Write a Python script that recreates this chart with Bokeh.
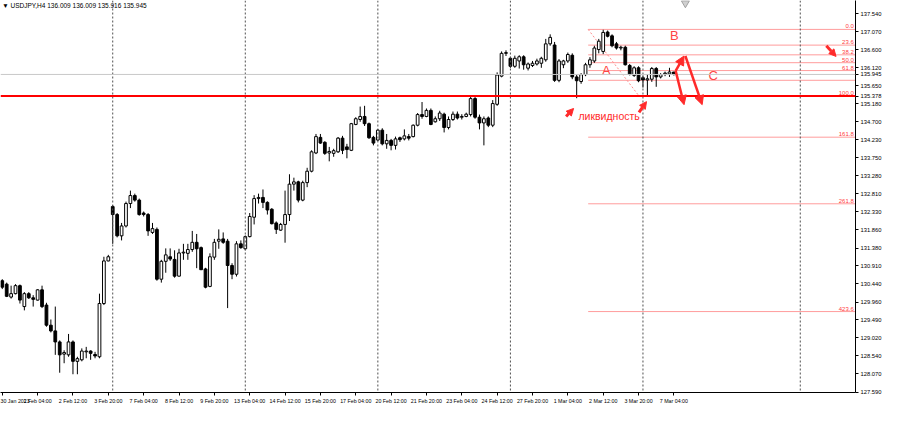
import numpy as np
from bokeh.plotting import figure
from bokeh.models import (Range1d, FixedTicker, PrintfTickFormatter, Span, Label,
                          Arrow, NormalHead, ColumnDataSource)
from bokeh.core.properties import value
from bokeh.embed import file_html
from bokeh.resources import INLINE

# USDJPY H4 bars, bar 0 = 30 Jan 2023 20:00, bar 152 = 7 Mar 04:00
opens = [130.52, 130.43, 130.09, 130.18, 130.39, 129.84, 130.18, 130.07, 130.01, 130.28,
         129.88, 129.35, 129.20, 128.91, 128.59, 128.57, 128.91, 128.40, 128.44, 128.65,
         128.67, 128.58, 128.52, 129.92, 131.04, 132.47, 132.26, 131.70, 131.96, 132.55,
         132.76, 132.64, 132.30, 132.26, 131.79, 131.87, 130.56, 131.03, 131.15, 131.08,
         130.64, 131.25, 131.24, 131.34, 131.53, 131.39, 130.83, 130.37, 131.14, 131.56,
         131.62, 131.56, 130.92, 130.69, 131.49, 131.36, 131.68, 132.19, 132.68, 132.71,
         132.58, 132.40, 132.04, 131.85, 132.00, 132.26, 133.06, 133.12, 132.64, 133.10,
         133.40, 133.88, 134.29, 134.16, 133.88, 133.87, 133.91, 134.27, 134.04, 133.95,
         134.63, 134.76, 134.84, 134.65, 134.29, 134.22, 134.48, 134.12, 134.21, 134.08,
         134.28, 134.25, 134.31, 134.31, 134.61, 134.89, 134.84, 135.00, 134.70, 134.78,
         134.90, 134.55, 134.76, 134.90, 134.82, 134.84, 134.89, 135.31, 134.82, 134.67,
         134.80, 134.61, 135.16, 135.90, 136.50, 136.37, 136.16, 136.30, 136.41, 136.11,
         136.18, 136.22, 136.24, 136.33, 136.75, 136.72, 135.79, 136.20, 136.30, 136.45,
         135.88, 135.76, 135.94, 136.20, 136.30, 136.60, 136.55, 137.06, 136.96, 136.75,
         136.64, 136.66, 136.18, 135.92, 136.12, 135.86, 135.80, 135.82, 136.10, 135.88,
         135.96, 135.96, 136.009]
highs = [130.56, 130.47, 130.39, 130.43, 130.42, 130.22, 130.22, 130.14, 130.30, 130.39,
         129.94, 129.50, 129.84, 128.95, 128.69, 129.12, 128.95, 128.52, 128.74, 128.78,
         128.69, 128.65, 130.18, 131.15, 131.20, 132.51, 132.30, 132.04, 132.60, 132.89,
         132.81, 132.68, 132.34, 132.30, 132.04, 131.92, 131.07, 131.37, 131.37, 131.32,
         131.36, 131.49, 131.49, 131.83, 131.75, 131.42, 130.86, 131.24, 131.62, 131.87,
         131.79, 131.62, 130.98, 131.56, 131.58, 131.71, 132.30, 132.77, 132.81, 132.92,
         132.61, 132.43, 132.08, 132.04, 132.89, 133.32, 133.23, 133.15, 133.15, 133.49,
         133.95, 134.38, 134.38, 134.19, 134.04, 133.99, 134.30, 134.33, 134.12, 134.67,
         134.82, 135.10, 135.12, 134.68, 134.33, 134.51, 134.53, 134.38, 134.25, 134.31,
         134.31, 134.50, 134.38, 134.63, 134.93, 135.22, 135.05, 135.05, 134.84, 134.99,
         134.94, 134.84, 134.97, 134.97, 134.90, 134.94, 135.40, 135.35, 134.89, 134.84,
         134.84, 135.27, 136.00, 136.55, 136.58, 136.41, 136.44, 136.45, 136.45, 136.26,
         136.30, 136.36, 136.41, 136.88, 137.00, 136.80, 136.35, 136.33, 136.52, 136.50,
         135.94, 135.98, 136.25, 136.40, 136.70, 136.88, 137.12, 137.10, 137.00, 136.80,
         136.70, 136.70, 136.22, 136.16, 136.16, 135.92, 135.95, 136.14, 136.14, 135.98,
         136.02, 136.12, 136.009]
lows = [130.30, 130.09, 130.05, 130.16, 129.92, 129.74, 130.04, 129.84, 130.00, 129.80,
        129.31, 129.16, 128.57, 128.10, 128.35, 128.52, 128.06, 128.06, 128.40, 128.48,
        128.44, 128.48, 128.48, 129.88, 131.03, 131.49, 131.66, 131.58, 131.92, 132.43,
        132.60, 132.23, 132.21, 131.70, 131.75, 130.52, 130.47, 130.73, 131.04, 130.60,
        130.63, 131.07, 131.07, 131.28, 130.85, 130.80, 130.32, 130.35, 131.07, 131.36,
        131.49, 129.80, 130.56, 130.63, 131.36, 131.32, 131.66, 132.00, 132.55, 132.43,
        132.26, 132.00, 131.75, 131.83, 131.52, 132.09, 132.89, 132.58, 132.61, 132.98,
        133.37, 133.85, 134.12, 133.83, 133.66, 133.78, 133.88, 133.85, 133.74, 133.93,
        134.61, 134.70, 134.59, 134.25, 134.08, 134.19, 134.08, 133.99, 133.95, 133.97,
        134.17, 134.21, 134.21, 134.29, 134.58, 134.78, 134.82, 134.61, 134.68, 134.72,
        134.42, 134.50, 134.72, 134.76, 134.76, 134.82, 134.84, 134.78, 134.50, 134.08,
        134.56, 134.56, 135.12, 135.87, 136.43, 136.12, 136.12, 136.10, 136.07, 136.05,
        136.14, 136.18, 136.12, 136.28, 136.70, 135.75, 135.74, 136.11, 136.25, 135.82,
        135.32, 135.70, 135.90, 136.12, 136.25, 136.50, 136.48, 136.92, 136.66, 136.60,
        136.58, 136.18, 135.92, 135.88, 135.74, 135.60, 135.40, 135.75, 135.62, 135.84,
        135.90, 135.88, 135.916]
closes = [130.35, 130.11, 130.18, 130.39, 130.01, 130.18, 130.07, 130.03, 130.28, 129.84,
          129.35, 129.20, 128.91, 128.57, 128.63, 128.91, 128.40, 128.47, 128.67, 128.67,
          128.61, 128.54, 129.92, 131.04, 131.15, 132.26, 131.70, 131.96, 132.55, 132.76,
          132.64, 132.26, 132.26, 131.83, 131.89, 130.56, 131.03, 131.20, 131.09, 130.64,
          131.25, 131.27, 131.34, 131.53, 131.36, 130.81, 130.35, 131.15, 131.53, 131.61,
          131.53, 130.92, 130.69, 131.49, 131.39, 131.68, 132.21, 132.68, 132.71, 132.58,
          132.38, 132.02, 131.87, 132.00, 132.26, 133.06, 133.12, 132.64, 133.10, 133.40,
          133.91, 134.31, 134.14, 133.87, 133.92, 133.94, 134.27, 133.95, 133.97, 134.65,
          134.78, 134.84, 134.65, 134.28, 134.14, 134.48, 134.12, 134.21, 134.08, 134.25,
          134.23, 134.33, 134.27, 134.61, 134.89, 134.84, 135.00, 134.63, 134.78, 134.93,
          134.55, 134.76, 134.90, 134.80, 134.84, 134.90, 135.31, 134.82, 134.67, 134.78,
          134.61, 135.18, 135.93, 136.50, 136.52, 136.16, 136.37, 136.41, 136.20, 136.22,
          136.24, 136.30, 136.37, 136.75, 136.92, 135.79, 136.30, 136.30, 136.47, 135.88,
          135.78, 135.94, 136.20, 136.33, 136.64, 136.82, 137.05, 136.95, 136.70, 136.64,
          136.66, 136.20, 135.95, 136.12, 135.78, 135.80, 135.83, 136.10, 135.88, 135.94,
          135.98, 136.01, 135.945]

# time axis: bar index -> label
date_ticks = [0, 8, 16, 24, 32, 40, 48, 56, 64, 72, 80, 88, 96, 104, 112, 120, 128, 136, 144, 152]
date_labels = ["30 Jan 2023", "1 Feb 04:00", "2 Feb 12:00", "3 Feb 20:00", "7 Feb 04:00",
               "8 Feb 12:00", "9 Feb 20:00", "13 Feb 04:00", "14 Feb 12:00", "15 Feb 20:00",
               "17 Feb 04:00", "20 Feb 12:00", "21 Feb 20:00", "23 Feb 04:00", "24 Feb 12:00",
               "27 Feb 20:00", "1 Mar 04:00", "2 Mar 12:00", "3 Mar 20:00", "7 Mar 04:00"]

price_ticks = [137.54, 137.07, 136.60, 136.12, 135.65, 135.18, 134.70, 134.23, 133.75, 133.28,
               132.81, 132.33, 131.86, 131.38, 130.91, 130.44, 129.96, 129.49, 129.02, 128.54,
               128.07, 127.59]

# week separators (bar index)
separators = [25, 55, 85, 115, 145, 180.6]
shift_marker = 154.6

bid_price = 135.945
level_price = 135.378

# fibonacci grid
fib_start = 132.6
fib_end = 144.1
fib_high = 137.13
fib_low = 135.378
fib_ratios = [0.0, 23.6, 38.2, 50.0, 61.8, 76.4, 100.0, 161.8, 261.8, 423.6]
fib_texts = ["0.0", "23.6", "38.2", "50.0", "61.8", "", "100.0", "161.8", "261.8", "423.6"]

# hand drawn arrows (bar index, price)
small_x0 = [127.6, 144.1, 186.5]
small_y0 = [134.84, 134.95, 136.70]
small_x1 = [129.3, 145.8, 188.7]
small_y1 = [135.05, 135.23, 136.42]
path_x0 = [152.4, 154.6, 152.4]
path_y0 = [136.04, 136.43, 136.04]
path_x1 = [154.3, 158.4, 154.3]
path_y1 = [136.43, 135.15, 135.15]

wave_labels = ["A", "B", "C"]
wave_x = [136.7, 152.1, 160.9]
wave_y = [136.04, 136.96, 135.91]
note_text = ["ликвидность"]
note_x = [130.4]
note_y = [134.86]

title_text = "\u25bc USDJPY,H4  136.009 136.009 135.916 135.945"

X_START, X_END = -0.4, 193.1
RED = "#ff2a2a"
FONT = "Liberation Sans"

o = np.array(opens)
c = np.array(closes)
src = ColumnDataSource(dict(
    x=np.arange(len(opens)),
    high=highs, low=lows,
    top=np.maximum(o, c), bottom=np.minimum(o, c),
    fill=np.where(c >= o, "white", "black"),
))

p = figure(width=884, height=406, x_range=Range1d(X_START, X_END),
           y_range=Range1d(127.58, 137.89), y_axis_location="right",
           output_backend="svg", toolbar_location=None,
           min_border_left=0, min_border_top=0, min_border_right=0, min_border_bottom=0)
p.grid.visible = False
p.outline_line_color = None
p.background_fill_color = "white"

# axes; the bid and the red level are shown as extra price labels
p.xaxis.ticker = FixedTicker(ticks=date_ticks)
p.xaxis.major_label_overrides = dict(zip(date_ticks, date_labels))
p.xaxis.major_label_text_align = "left"
p.yaxis.ticker = FixedTicker(ticks=price_ticks + [bid_price, level_price])
p.yaxis.formatter = PrintfTickFormatter(format="%.3f")
for ax in (p.xaxis, p.yaxis):
    ax.axis_line_color = "black"
    ax.major_tick_line_color = "black"
    ax.major_tick_in = 0
    ax.major_tick_out = 3
    ax.minor_tick_line_color = None
    ax.major_label_text_font = FONT
    ax.major_label_text_color = "black"
    ax.major_label_standoff = 2
p.xaxis.major_label_text_font_size = "5.3px"
p.yaxis.major_label_text_font_size = "5.8px"

# separators and horizontal lines
for s in separators:
    p.add_layout(Span(location=s, dimension="height", line_color="#505050",
                      line_dash="2 2", line_width=1))
p.add_layout(Span(location=bid_price, dimension="width", line_color="#c8c8c8", line_width=1))

# fibonacci
fib_prices = [fib_high - r / 100.0 * (fib_high - fib_low) for r in fib_ratios]
p.segment(x0=[fib_start] * len(fib_prices), y0=fib_prices,
          x1=[X_END] * len(fib_prices), y1=fib_prices,
          line_color="#ff9c9c", line_width=1)
p.segment(x0=[fib_start], y0=[fib_high], x1=[fib_end], y1=[fib_low],
          line_color="#ff8c8c", line_dash="2 2", line_width=1)
p.text(x=[X_END - 0.4] * len(fib_prices), y=fib_prices, text=fib_texts,
       text_font=value(FONT), text_font_size="6px", text_color="#ff4040",
       text_align="right", text_baseline="bottom", y_offset=-1)

p.add_layout(Span(location=level_price, dimension="width", line_color="#ff0000", line_width=2))

# candles
p.segment(x0="x", y0="low", x1="x", y1="high", source=src, line_color="black", line_width=1)
p.vbar(x="x", width=0.62, top="top", bottom="bottom", fill_color="fill",
       line_color="black", line_width=1, source=src)

# chart shift marker
p.scatter(x=[shift_marker], y=[137.82], marker="inverted_triangle", size=8,
          fill_color="#d0d0d0", line_color="#a0a0a0")

# drawings
p.add_layout(Arrow(end=NormalHead(size=7, fill_color=RED, line_color=RED),
                   source=ColumnDataSource(dict(x0=small_x0, y0=small_y0, x1=small_x1, y1=small_y1)),
                   x_start="x0", y_start="y0", x_end="x1", y_end="y1",
                   line_color=RED, line_width=3))
p.add_layout(Arrow(end=NormalHead(size=9, fill_color=RED, line_color=RED),
                   source=ColumnDataSource(dict(x0=path_x0, y0=path_y0, x1=path_x1, y1=path_y1)),
                   x_start="x0", y_start="y0", x_end="x1", y_end="y1",
                   line_color=RED, line_width=2.5))
p.text(x=wave_x, y=wave_y, text=wave_labels, text_font=value(FONT), text_font_size="13px",
       text_color="#ff4444", text_align="center", text_baseline="middle")
p.text(x=note_x, y=note_y, text=note_text, text_font=value(FONT), text_font_size="10.5px",
       text_color=RED, text_align="left", text_baseline="middle")

p.add_layout(Label(x=X_START + 0.4, y=137.86, text=title_text, text_font=FONT,
                   text_font_size="6.5px", text_color="black", text_baseline="top"))

open("out.html", "w").write(file_html(p, INLINE))
